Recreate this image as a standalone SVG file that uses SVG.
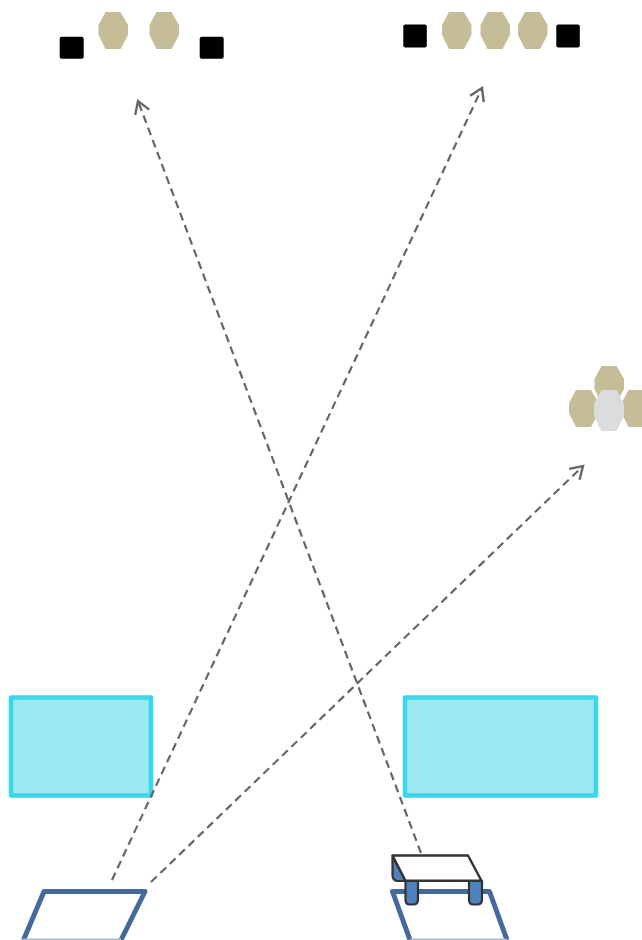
<svg xmlns="http://www.w3.org/2000/svg" width="642" height="940" viewBox="0 0 642 940">
<style>
.sq{fill:#000}
.hex{fill:#c5bd98}
.hexg{fill:#dcdcde}
.scr{fill:#9ce9f2;stroke:#3bd6e8;stroke-width:4.500;stroke-linejoin:round}
.pad{fill:#fff;stroke:#44699a;stroke-width:5;stroke-linejoin:round}
.padb{stroke:#a9b9d2;stroke-width:2;fill:none}
.leg{fill:#4f81bd;stroke:#333;stroke-width:2.2;stroke-linejoin:round}
.top{fill:#fff;stroke:#333;stroke-width:2.4;stroke-linejoin:round}
.conn{fill:none;stroke:#666;stroke-width:2.2;stroke-dasharray:8 5;marker-end:url(#open)}
</style>
<defs>
<marker id="open" markerUnits="userSpaceOnUse" markerWidth="20" markerHeight="20" refX="14" refY="10" orient="auto" overflow="visible">
<path d="M2 2.500L14 10L2 17.500" fill="none" stroke="#666" stroke-width="2.4"/>
</marker>
<polygon id="h" points="7,0 22,0 29.500,13 29.500,23 22,37 7,37 0,23 0,13"/>
</defs>
<rect width="642" height="940" fill="#fff"/>
<g id="group-top-left">
<rect class="sq" x="59.700" y="36.700" width="24" height="22" rx="2"/>
<use class="hex" href="#h" x="98.500" y="12"/>
<use class="hex" href="#h" x="149.500" y="12"/>
<rect class="sq" x="199.700" y="36.700" width="24" height="22" rx="2"/>
</g>
<g id="group-top-right">
<rect class="sq" x="403.300" y="24.500" width="23.500" height="23" rx="2"/>
<use class="hex" href="#h" x="442" y="12"/>
<use class="hex" href="#h" x="480.500" y="12"/>
<use class="hex" href="#h" x="518" y="12"/>
<rect class="sq" x="556.300" y="24.500" width="23.500" height="23" rx="2"/>
</g>
<g id="group-right">
<use class="hex" href="#h" x="594.500" y="366"/>
<use class="hex" href="#h" x="569" y="390"/>
<use class="hex" href="#h" x="621.500" y="390"/>
<polygon class="hexg" points="601.500,390 616.500,390 624,404 624,416 616.500,431 601.500,431 594,416 594,404"/>
</g>
<g id="screen-left"><rect class="scr" x="11" y="697.500" width="140" height="98"/></g>
<g id="screen-right"><rect class="scr" x="405" y="697.500" width="191" height="98"/></g>
<g id="pad-left">
<path class="pad" d="M23.500 940L44 891.500H145L121 940"/>
<path class="padb" d="M23 939.500H121"/>
</g>
<g id="pad-right">
<path class="pad" d="M410 940L392.500 891.500H489.500L507 940"/>
<path class="padb" d="M410 939.500H507"/>
</g>
<g id="table">
<path class="leg" d="M392.500 856L405.500 881H398Q392.500 881 392.500 875Z"/>
<path class="leg" d="M405.500 881H418V900Q418 904.500 413 904.500H410Q405.500 904.500 405.500 900Z"/>
<path class="leg" d="M469 881H482V900Q482 904.500 477 904.500H473.500Q469 904.500 469 900Z"/>
<polygon class="top" points="392.500,855.500 468,855.500 481.500,880.700 405.500,880.700"/>
</g>
<g id="connectors">
<path class="conn" d="M421 853L138 101"/>
<path class="conn" d="M112 880L482 88"/>
<path class="conn" d="M151 882L583 466"/>
</g>
</svg>
